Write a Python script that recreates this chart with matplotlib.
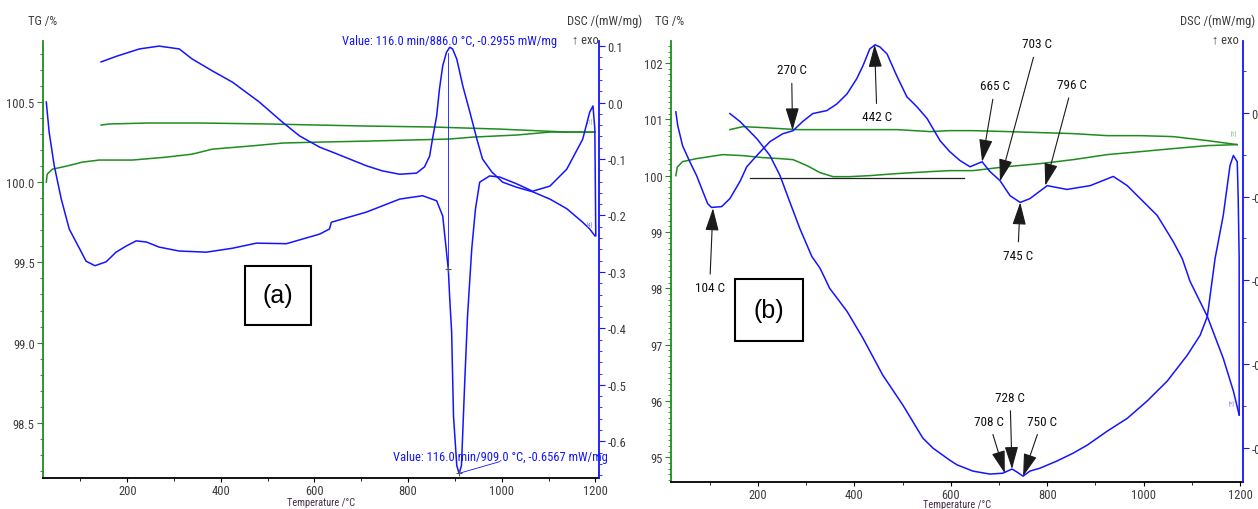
import matplotlib
matplotlib.use('Agg')
import matplotlib.pyplot as plt
from matplotlib import font_manager
from matplotlib.ticker import MultipleLocator, FixedLocator, FormatStrFormatter

# narrow sans if one is installed, else plain Liberation Sans
names = set(f.name for f in font_manager.fontManager.ttflist)
fams = [f for f in ['Liberation Sans Narrow', 'Arial Narrow', 'Roboto Condensed'] if f in names]
plt.rcParams['font.family'] = fams + ['Liberation Sans', 'DejaVu Sans']
plt.rcParams['axes.unicode_minus'] = False
narrow = len(fams) > 0
FS = 9 if narrow else 8

# ---------------- panel (a) ----------------
a_heat_T = [27, 33, 44, 59, 76, 102, 112, 131, 155, 176, 198, 219, 241, 268, 311, 369, 425, 476, 540, 611,
            632, 636, 711, 782, 831, 861, 874, 886, 889, 893, 897, 904, 909, 914, 921, 927, 936, 944, 953, 974,
            996, 1032, 1066, 1103, 1139, 1173, 1188, 1195, 1199, 1201]
a_heat_dsc = [0.001, -0.052, -0.112, -0.171, -0.224, -0.265, -0.281, -0.289, -0.282, -0.265, -0.254, -0.245,
              -0.247, -0.256, -0.263, -0.265, -0.258, -0.249, -0.250, -0.233, -0.224, -0.212, -0.194, -0.171,
              -0.165, -0.174, -0.201, -0.296, -0.348, -0.406, -0.555, -0.643, -0.657, -0.643, -0.495, -0.378,
              -0.259, -0.188, -0.141, -0.130, -0.132, -0.144, -0.157, -0.148, -0.118, -0.065, -0.017, -0.006,
              -0.047, -0.236]
a_cool_T = [144, 177, 226, 268, 311, 339, 382, 425, 482, 532, 568, 611, 639, 711, 745, 782, 818, 835, 846, 852,
            861, 867, 874, 882, 889, 895, 904, 917, 932, 947, 959, 979, 1002, 1032, 1066, 1103, 1139, 1173, 1188, 1199]
a_cool_dsc = [0.072, 0.082, 0.095, 0.100, 0.095, 0.077, 0.056, 0.036, 0.001, -0.035, -0.059, -0.079, -0.088,
              -0.112, -0.121, -0.127, -0.125, -0.114, -0.095, -0.065, -0.024, 0.024, 0.065, 0.089, 0.098, 0.095,
              0.077, 0.029, -0.017, -0.065, -0.100, -0.123, -0.141, -0.150, -0.158, -0.171, -0.188, -0.212,
              -0.224, -0.236]
a_tg1_T = [27, 29, 40, 70, 104, 140, 211, 283, 339, 382, 461, 532, 611, 711, 889, 938, 1032, 1103, 1199]
a_tg1 = [100.0, 100.05, 100.081, 100.10, 100.125, 100.138, 100.138, 100.156, 100.175, 100.206, 100.225,
         100.244, 100.25, 100.256, 100.269, 100.281, 100.294, 100.3125, 100.3125]
a_tg2_T = [144, 162, 247, 354, 497, 611, 711, 852, 996, 1139, 1199]
a_tg2 = [100.356, 100.363, 100.369, 100.369, 100.363, 100.356, 100.35, 100.344, 100.331, 100.3125, 100.3125]
a_mark_T = [886.0, 909.0]
a_mark_dsc = [-0.2955, -0.6567]
a_mark_text = ['Value: 116.0 min/886.0 \u00b0C, -0.2955 mW/mg', 'Value: 116.0 min/909.0 \u00b0C, -0.6567 mW/mg']

# ---------------- panel (b) ----------------
b_heat_T = [30, 34, 44, 59, 73, 86, 96, 104, 125, 142, 163, 177, 198, 225, 252, 273, 293, 314, 343, 364, 385,
            405, 418, 432, 443, 453, 468, 488, 509, 530, 551, 578, 598, 619, 640, 665, 681, 702, 723, 744, 764,
            800, 841, 889, 937, 966, 993, 1028, 1061, 1080, 1096, 1132, 1165, 1186, 1198]
b_heat_dsc = [0.102, 0.069, 0.021, -0.017, -0.050, -0.088, -0.117, -0.126, -0.124, -0.105, -0.064, -0.029,
              -0.002, 0.031, 0.050, 0.057, 0.079, 0.098, 0.105, 0.121, 0.145, 0.181, 0.212, 0.252, 0.262, 0.257,
              0.240, 0.188, 0.138, 0.114, 0.086, 0.033, 0.007, -0.014, -0.029, -0.017, -0.040, -0.062, -0.098,
              -0.114, -0.105, -0.074, -0.083, -0.074, -0.052, -0.074, -0.105, -0.145, -0.207, -0.248, -0.302,
              -0.386, -0.486, -0.564, -0.621]
b_cool_T = [142, 163, 198, 225, 246, 266, 287, 312, 329, 349, 385, 418, 459, 501, 542, 563, 598, 613, 646, 681,
            708, 727, 737, 750, 764, 785, 820, 854, 883, 924, 966, 1007, 1049, 1090, 1117, 1132, 1148, 1165,
            1179, 1186, 1194, 1196, 1198, 1198]
b_cool_dsc = [0.098, 0.079, 0.038, -0.002, -0.050, -0.112, -0.176, -0.243, -0.271, -0.319, -0.374, -0.438,
              -0.526, -0.598, -0.676, -0.700, -0.729, -0.740, -0.755, -0.762, -0.760, -0.750, -0.757, -0.767,
              -0.755, -0.748, -0.731, -0.712, -0.693, -0.660, -0.629, -0.588, -0.540, -0.479, -0.431, -0.386,
              -0.248, -0.145, -0.026, -0.002, -0.017, -0.105, -0.248, -0.621]
b_tg1_T = [30, 33, 44, 73, 127, 169, 210, 246, 273, 302, 329, 356, 391, 432, 488, 557, 598, 646, 717, 785, 854,
           924, 993, 1061, 1132, 1194]
b_tg1 = [100.0, 100.15, 100.249, 100.302, 100.373, 100.355, 100.320, 100.302, 100.284, 100.178, 100.053,
         99.982, 99.982, 100.0, 100.036, 100.071, 100.089, 100.089, 100.160, 100.213, 100.284, 100.373, 100.426,
         100.480, 100.533, 100.551]
b_tg2_T = [142, 169, 210, 281, 349, 418, 488, 557, 598, 646, 717, 785, 854, 924, 993, 1061, 1132, 1194]
b_tg2 = [100.817, 100.870, 100.853, 100.817, 100.817, 100.817, 100.817, 100.782, 100.799, 100.799, 100.782,
         100.764, 100.746, 100.710, 100.710, 100.693, 100.622, 100.551]
b_base_T = [183, 627]
b_base_tg = [99.964, 99.964]

b_labels = ['104 C', '270 C', '442 C', '665 C', '703 C', '796 C', '745 C', '708 C', '728 C', '750 C']
b_tip_T = [107, 272, 442, 665, 702, 796, 744, 712, 727, 750]
b_tip_dsc = [-0.128, 0.058, 0.262, -0.017, -0.064, -0.074, -0.114, -0.760, -0.750, -0.767]
b_text_xy = [(100, -0.317), (270, 0.202), (447, 0.090), (692, 0.164), (779, 0.264), (852, 0.167),
             (739, -0.240), (679, -0.636), (723, -0.579), (789, -0.636)]

BLUE = '#1414ff'
GREEN = '#1e8c1e'
TXT = '#3c3c3c'

fig = plt.figure(figsize=(12.58, 5.10), dpi=100)


def px(x, y):
    return x / 1258.0, 1 - y / 510.0


def style(ax, ax2, xlim, tglim, dsclim):
    ax.set_xlim(*xlim)
    ax.set_ylim(*tglim)
    ax2.set_ylim(*dsclim)
    for s in ['top', 'right']:
        ax.spines[s].set_visible(False)
    for s in ['top', 'left', 'bottom']:
        ax2.spines[s].set_visible(False)
    ax.spines['left'].set_color(GREEN)
    ax.spines['left'].set_linewidth(1.3)
    ax.spines['bottom'].set_color('black')
    ax.spines['bottom'].set_linewidth(1.3)
    ax2.spines['right'].set_color(BLUE)
    ax2.spines['right'].set_linewidth(1.3)
    ax.xaxis.set_major_locator(MultipleLocator(200))
    ax.xaxis.set_minor_locator(MultipleLocator(100))
    ax.tick_params(axis='x', which='both', direction='out', colors='black', labelcolor=TXT, labelsize=FS, pad=1)
    ax.tick_params(axis='x', which='major', length=3)
    ax.tick_params(axis='x', which='minor', length=2)
    ax.tick_params(axis='y', which='both', direction='out', colors=GREEN, labelcolor=TXT, labelsize=FS, pad=2)
    ax.tick_params(axis='y', which='major', length=4)
    ax.tick_params(axis='y', which='minor', length=2)
    ax2.tick_params(axis='y', which='both', direction='out', colors=BLUE, labelcolor=TXT, labelsize=FS, pad=2)
    ax2.tick_params(axis='y', which='major', length=4)
    ax2.tick_params(axis='y', which='minor', length=2)


# panel (a)
axA = fig.add_axes([0.0342, 0.0608, 0.442, 0.8568])
axA2 = axA.twinx()
style(axA, axA2, (20, 1208), (98.156, 100.88), (-0.665, 0.109))
axA.yaxis.set_major_locator(FixedLocator([98.5, 99.0, 99.5, 100.0, 100.5]))
axA.yaxis.set_minor_locator(MultipleLocator(0.1))
axA.yaxis.set_major_formatter(FormatStrFormatter('%.1f'))
axA2.yaxis.set_major_locator(MultipleLocator(0.1))
axA2.yaxis.set_minor_locator(MultipleLocator(0.02))
axA2.yaxis.set_major_formatter(FormatStrFormatter('%.1f'))

axA.plot(a_tg1_T, a_tg1, color=GREEN, lw=1.1)
axA.plot(a_tg2_T, a_tg2, color=GREEN, lw=1.1)
axA2.plot(a_heat_T, a_heat_dsc, color=BLUE, lw=1.1)
axA2.plot(a_cool_T, a_cool_dsc, color=BLUE, lw=1.1)
axA2.plot([a_mark_T[0], a_mark_T[0]], [0.088, a_mark_dsc[0]], color=BLUE, lw=0.6)
axA2.plot([a_mark_T[1], 996], [a_mark_dsc[1], -0.636], color=BLUE, lw=0.6)
axA2.plot(a_mark_T, a_mark_dsc, '+', color='#555555', ms=5, mew=0.8)
fig.text(*px(450, 41), a_mark_text[0], color=BLUE, fontsize=FS, ha='center', va='center')
fig.text(*px(500, 458), a_mark_text[1], color=BLUE, fontsize=FS, ha='center', va='center')
axA.text(1188, 100.38, '[1]', color='#70b070', fontsize=4.5, ha='center', va='center')
axA2.text(1188, -0.217, '[4]', color='#7070ff', fontsize=4.5, ha='center', va='center')

# panel (b)
axB = fig.add_axes([0.5334, 0.0529, 0.4547, 0.8647])
axB2 = axB.twinx()
style(axB, axB2, (20, 1206), (94.56, 102.39), (-0.781, 0.271))
axB.yaxis.set_major_locator(MultipleLocator(1))
axB.yaxis.set_minor_locator(MultipleLocator(0.1))
axB.yaxis.set_major_formatter(FormatStrFormatter('%d'))
axB2.yaxis.set_major_locator(FixedLocator([0.1, -0.1, -0.3, -0.5, -0.7]))
axB2.yaxis.set_minor_locator(MultipleLocator(0.1))
axB2.yaxis.set_major_formatter(FormatStrFormatter('%.1f'))

axB.plot(b_tg1_T, b_tg1, color=GREEN, lw=1.1)
axB.plot(b_tg2_T, b_tg2, color=GREEN, lw=1.1)
axB.plot(b_base_T, b_base_tg, color='#222222', lw=0.9)
axB2.plot(b_heat_T, b_heat_dsc, color=BLUE, lw=1.1)
axB2.plot(b_cool_T, b_cool_dsc, color=BLUE, lw=1.1)
axB.text(1187, 100.75, '[1]', color='#70b070', fontsize=4.5, ha='center', va='center')
axB2.text(1183, -0.595, '[*]', color='#7070ff', fontsize=4.5, ha='center', va='center')

for lab, tx, ty, pos in zip(b_labels, b_tip_T, b_tip_dsc, b_text_xy):
    axB2.annotate(lab, xy=(tx, ty), xytext=pos, ha='center', va='center', fontsize=FS + 0.5, color='#111111',
                  arrowprops=dict(arrowstyle='-|>,head_length=1.0,head_width=0.3', color='#1a1a1a', lw=0.8,
                                  mutation_scale=14, shrinkA=3, shrinkB=0))

# boxed panel letters
fig.text(*px(278, 296), '(a)', fontsize=18, ha='center', va='center', family=['Liberation Sans', 'DejaVu Sans'],
         bbox=dict(boxstyle='square,pad=0.7', fc='white', ec='black', lw=1.5))
fig.text(*px(769, 311), '(b)', fontsize=18, ha='center', va='center', family=['Liberation Sans', 'DejaVu Sans'],
         bbox=dict(boxstyle='square,pad=0.75', fc='white', ec='black', lw=1.5))

# axis titles and headers
fig.text(*px(321, 503), 'Temperature /\u00b0C', fontsize=FS - 1.5, color='#4a2c4a', ha='center', va='center')
fig.text(*px(957, 505), 'Temperature /\u00b0C', fontsize=FS - 1.5, color='#4a2c4a', ha='center', va='center')
for x in [43, 670]:
    fig.text(*px(x, 21), 'TG /%', fontsize=FS, color=TXT, ha='center', va='center')
fig.text(*px(567, 21), 'DSC /(mW/mg)', fontsize=FS, color=TXT, ha='left', va='center')
fig.text(*px(1255, 21), 'DSC /(mW/mg)', fontsize=FS, color=TXT, ha='right', va='center')
for x in [572, 1212]:
    fig.text(*px(x, 40), '\u2191 exo', fontsize=FS, color=TXT, ha='left', va='center',
             family=fams + ['Liberation Sans', 'DejaVu Sans'])

fig.savefig('out.png', dpi=100)
